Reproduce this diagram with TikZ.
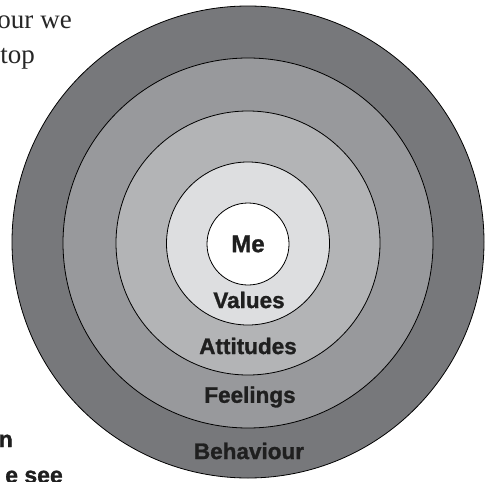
\documentclass[tikz,border=0pt]{standalone}
\usepackage{fontspec}
\setmainfont{Liberation Serif}
\newfontfamily\heavyfont[FakeBold=1.2]{Liberation Sans Bold}
\begin{document}
\begin{tikzpicture}[x=1pt,y=-1pt,
  ring/.style={circle,draw=black,line width=0.8pt,inner sep=0pt,minimum size=#1},
  ringlabel/.style={font=\heavyfont\fontsize{22.5}{24}\selectfont,text=black!88,inner sep=0pt},
  bodytext/.style={font=\fontsize{27}{30}\selectfont,text=black!85,inner sep=0pt,anchor=base east},
  sidetext/.style={font=\heavyfont\fontsize{23}{26}\selectfont,text=black!88,inner sep=0pt,anchor=base east}]
\useasboundingbox (0,0) rectangle (485,482);
\clip (0,0) rectangle (485,482);
\definecolor{ringA}{RGB}{119,120,123}
\definecolor{ringB}{RGB}{152,153,156}
\definecolor{ringC}{RGB}{179,180,182}
\definecolor{ringD}{RGB}{221,222,224}

% concentric rings, outermost first
\node[ring=472pt,fill=ringA] (behaviour) at (248,242) {};
\node[ring=370pt,fill=ringB] (feelings) at (248,243) {};
\node[ring=264pt,fill=ringC] (attitudes) at (248,243) {};
\node[ring=163pt,fill=ringD] (values) at (248,243.5) {};
\node[ring=82pt,fill=white] (me) at (248,244) {};

% ring labels
\node[ringlabel,font=\heavyfont\fontsize{24}{26}\selectfont] (meL) at (me.center) {Me};
\node[ringlabel] (valuesL) at (249,300) {Values};
\node[ringlabel] (attitudesL) at (248,346) {Attitudes};
\node[ringlabel] (feelingsL) at (250,397) {Feelings};
\node[ringlabel] (behaviourL) at (249,451) {Behaviour};

% surrounding page text
\node[bodytext] (lineA) at (72,28) {our\hspace{7pt}we};
\node[bodytext] (lineB) at (35,63) {top};
\node[sidetext] (lineC) at (13,447) {n};
\node[sidetext] (lineD) at (63,483) {e see};
\end{tikzpicture}
\end{document}
